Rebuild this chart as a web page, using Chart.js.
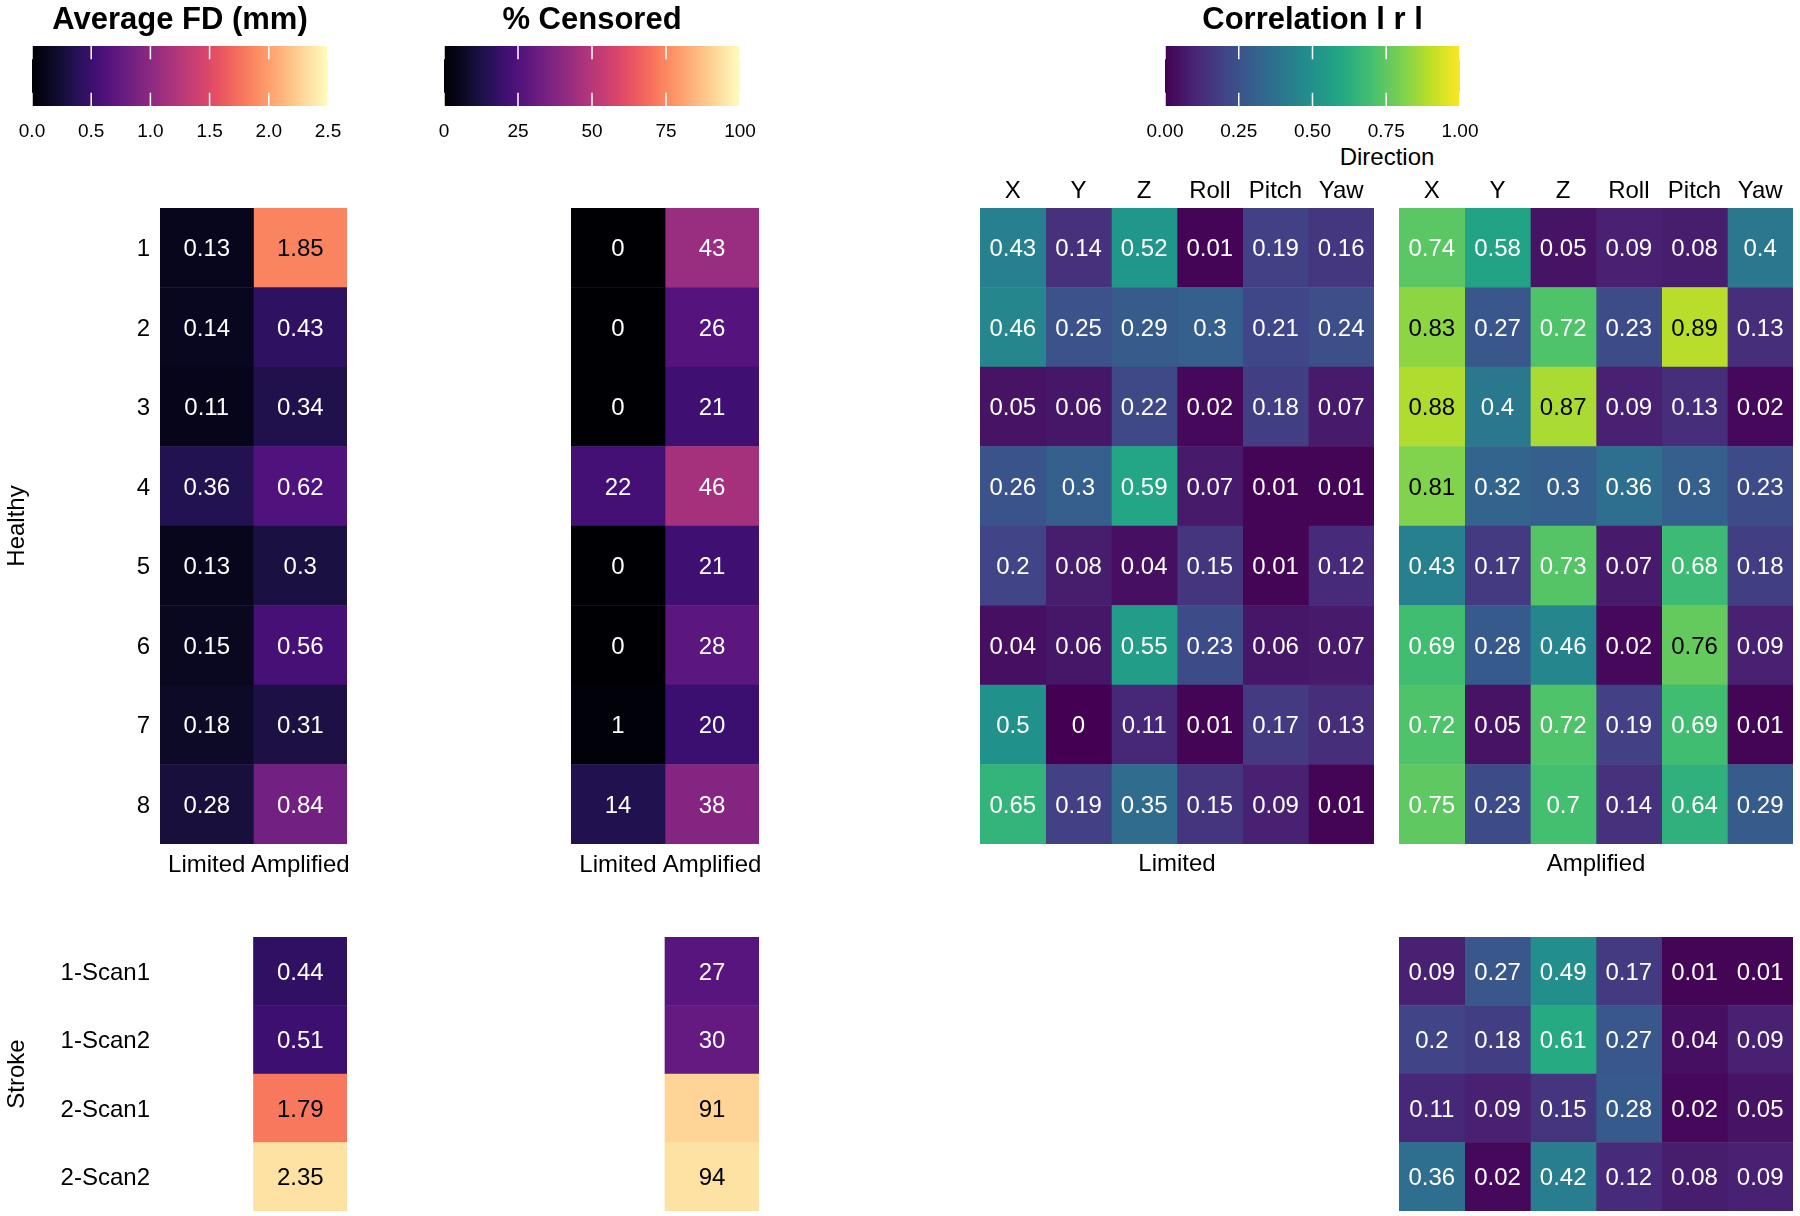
<!DOCTYPE html>
<html>
<head>
<meta charset="utf-8">
<script src="https://cdn.jsdelivr.net/npm/chart.js@4.4.1/dist/chart.umd.min.js"></script>
<style>
  html, body { margin: 0; padding: 0; background: #fff; }
  body { position: relative; width: 1800px; height: 1216px; overflow: hidden;
         font-family: 'Liberation Sans', Arial, Helvetica, sans-serif; }
  canvas { position: absolute; }
  #direction { position: absolute; left: 1287px; top: 143px; width: 200px; text-align: center;
               font-size: 24px; line-height: 28px; color: #000; }
</style>
</head>
<body>
<div id="direction">Direction</div>
<script>
// ---- data ----
const healthyRows = ['1', '2', '3', '4', '5', '6', '7', '8'];
const strokeRows = ['1-Scan1', '1-Scan2', '2-Scan1', '2-Scan2'];
const conditions = ['Limited', 'Amplified'];
const directions = ['X', 'Y', 'Z', 'Roll', 'Pitch', 'Yaw'];

const fdHealthyLimited   = [0.13, 0.14, 0.11, 0.36, 0.13, 0.15, 0.18, 0.28];
const fdHealthyAmplified = [1.85, 0.43, 0.34, 0.62, 0.3, 0.56, 0.31, 0.84];
const fdStrokeLimited    = [null, null, null, null];
const fdStrokeAmplified  = [0.44, 0.51, 1.79, 2.35];

const censHealthyLimited   = [0, 0, 0, 22, 0, 0, 1, 14];
const censHealthyAmplified = [43, 26, 21, 46, 21, 28, 20, 38];
const censStrokeLimited    = [null, null, null, null];
const censStrokeAmplified  = [27, 30, 91, 94];

// one row per subject, columns X Y Z Roll Pitch Yaw
const corrHealthyLimited = [
  [0.43, 0.14, 0.52, 0.01, 0.19, 0.16],
  [0.46, 0.25, 0.29, 0.3, 0.21, 0.24],
  [0.05, 0.06, 0.22, 0.02, 0.18, 0.07],
  [0.26, 0.3, 0.59, 0.07, 0.01, 0.01],
  [0.2, 0.08, 0.04, 0.15, 0.01, 0.12],
  [0.04, 0.06, 0.55, 0.23, 0.06, 0.07],
  [0.5, 0, 0.11, 0.01, 0.17, 0.13],
  [0.65, 0.19, 0.35, 0.15, 0.09, 0.01]
];
const corrHealthyAmplified = [
  [0.74, 0.58, 0.05, 0.09, 0.08, 0.4],
  [0.83, 0.27, 0.72, 0.23, 0.89, 0.13],
  [0.88, 0.4, 0.87, 0.09, 0.13, 0.02],
  [0.81, 0.32, 0.3, 0.36, 0.3, 0.23],
  [0.43, 0.17, 0.73, 0.07, 0.68, 0.18],
  [0.69, 0.28, 0.46, 0.02, 0.76, 0.09],
  [0.72, 0.05, 0.72, 0.19, 0.69, 0.01],
  [0.75, 0.23, 0.7, 0.14, 0.64, 0.29]
];
const corrStrokeAmplified = [
  [0.09, 0.27, 0.49, 0.17, 0.01, 0.01],
  [0.2, 0.18, 0.61, 0.27, 0.04, 0.09],
  [0.11, 0.09, 0.15, 0.28, 0.02, 0.05],
  [0.36, 0.02, 0.42, 0.12, 0.08, 0.09]
];

const fdTicks = [0, 0.5, 1, 1.5, 2, 2.5];
const censTicks = [0, 25, 50, 75, 100];
const corrTicks = [0, 0.25, 0.5, 0.75, 1];

// ---- styling ----
const FONT = "'Liberation Sans', Arial, Helvetica, sans-serif";
const VIRIDIS = ['#440154', '#482475', '#414487', '#355f8d', '#2a788e', '#21918c',
                 '#22a884', '#44bf70', '#7ad151', '#bddf26', '#fde725'];
const MAGMA = ['#000004', '#07061c', '#140e36', '#251255', '#3b0f70', '#51127c', '#641a80',
               '#782281', '#8c2981', '#a1307e', '#b73779', '#ca3e72', '#de4968', '#ed5a5f',
               '#f7705c', '#fb8861', '#fe9f6d', '#feb77e', '#fecf92', '#fde7a9', '#fcfdbf'];

Chart.defaults.font.family = FONT;
Chart.defaults.color = '#000';
Chart.defaults.animation = false;
Chart.defaults.responsive = false;
Chart.defaults.plugins.legend.display = false;
Chart.defaults.plugins.tooltip.enabled = false;

function rgb(hex) {
  const n = parseInt(hex.slice(1), 16);
  return [n >> 16, (n >> 8) & 255, n & 255];
}

function colorAt(stops, t) {
  t = Math.max(0, Math.min(1, t));
  const p = t * (stops.length - 1);
  const i = Math.min(Math.floor(p), stops.length - 2);
  const f = p - i;
  const a = rgb(stops[i]), b = rgb(stops[i + 1]);
  const c = a.map((v, k) => Math.round(v + (b[k] - v) * f));
  return `rgb(${c[0]},${c[1]},${c[2]})`;
}

function addCanvas(left, top, width, height) {
  const c = document.createElement('canvas');
  c.width = width;
  c.height = height;
  c.style.left = left + 'px';
  c.style.top = top + 'px';
  document.body.appendChild(c);
  return c;
}

const byColumn = m => m[0].map((_, c) => m.map(row => row[c]));

// keep tick labels from pushing the plot area around
function noOverhang(s) {
  s.paddingTop = 0; s.paddingBottom = 0; s.paddingLeft = 0; s.paddingRight = 0;
}

// heatmap = horizontal stacked bars, one dataset per column, one unit wide each
function heatmap(cfg) {
  const [l, t, r, b] = cfg.area;
  const yw = cfg.rowAxis ? l : 0;
  const padL = cfg.rowAxis ? 0 : 40, padR = 40;
  const topH = cfg.colPos === 'top' ? 40 : 0;
  const botH = (cfg.colPos === 'bottom' || cfg.panelTitle) ? 40 : 0;
  const canvas = addCanvas(l - yw - padL, t - topH, yw + padL + (r - l) + padR, topH + (b - t) + botH);
  const n = cfg.cols.length;

  const scales = {
    y: {
      type: 'category', stacked: true, display: !!cfg.rowAxis,
      grid: { display: false, drawTicks: false }, border: { display: false },
      ticks: { padding: 10, labelOffset: 2, font: { size: 24 }, color: '#000' },
      title: { display: !!cfg.rowTitle, text: cfg.rowTitle || '', font: { size: 24 }, color: '#000',
               padding: { top: 3, bottom: 0 } },
      afterFit: s => { s.width = yw; noOverhang(s); }
    },
    x: {
      type: 'linear', stacked: true, min: 0, max: n,
      position: cfg.colPos || 'bottom', display: !!cfg.colPos,
      grid: { display: false, drawTicks: false }, border: { display: false },
      afterBuildTicks: s => { s.ticks = cfg.cols.map((c, i) => ({ value: i + 0.5 })); },
      ticks: { autoSkip: false, maxRotation: 0, padding: cfg.colPos === 'top' ? 2 : 7,
               font: { size: 24 }, color: '#000', callback: (v, i) => cfg.cols[i] },
      afterFit: s => { s.height = cfg.colPos === 'top' ? topH : botH; noOverhang(s); }
    }
  };
  if (cfg.panelTitle) {
    scales.x2 = {
      type: 'linear', position: 'bottom', min: 0, max: n,
      grid: { display: false, drawTicks: false }, border: { display: false },
      ticks: { display: false },
      title: { display: true, text: cfg.panelTitle, font: { size: 24 }, color: '#000',
               padding: { top: 0, bottom: 5 } },
      afterFit: s => { s.height = botH; noOverhang(s); }
    };
  }

  const datasets = cfg.values.map((col, ci) => ({
    label: cfg.cols[ci],
    data: col.map(() => 1),
    backgroundColor: col.map(v => v == null ? 'rgba(0,0,0,0)'
      : colorAt(cfg.stops, (v - cfg.min) / (cfg.max - cfg.min))),
    borderWidth: 0,
    barPercentage: 1,
    categoryPercentage: 1
  }));

  new Chart(canvas, {
    type: 'bar',
    data: { labels: cfg.rows, datasets },
    options: {
      indexAxis: 'y',
      events: [],
      layout: { padding: { left: padL, right: padR, top: 0, bottom: 0 } },
      scales
    },
    plugins: [{
      id: 'cellLabels',
      afterDatasetsDraw(chart) {
        const ctx = chart.ctx;
        ctx.save();
        ctx.font = `24px ${FONT}`;
        ctx.textAlign = 'center';
        ctx.textBaseline = 'middle';
        chart.data.datasets.forEach((ds, di) => {
          chart.getDatasetMeta(di).data.forEach((bar, ri) => {
            const v = cfg.values[di][ri];
            if (v == null) return;
            const tv = (v - cfg.min) / (cfg.max - cfg.min);
            ctx.fillStyle = tv > cfg.darkAbove ? '#000' : '#fff';
            ctx.fillText(String(v), (bar.x + bar.base) / 2, bar.y + 2);
          });
        });
        ctx.restore();
      }
    }]
  });
}

function colorbar(cfg) {
  const [l, t, r, b] = cfg.area;
  const pad = 40, axisH = 40;
  const canvas = addCanvas(l - pad, 0, r - l + 2 * pad, b + axisH);
  const lo = cfg.ticks[0], hi = cfg.ticks[cfg.ticks.length - 1];

  new Chart(canvas, {
    type: 'bar',
    data: {
      labels: [''],
      datasets: [{
        data: [[lo, hi]],
        borderWidth: 0,
        barPercentage: 1,
        categoryPercentage: 1,
        backgroundColor: ctx => {
          const chart = ctx.chart;
          if (!chart.chartArea) return null;
          const xs = chart.scales.x;
          const g = chart.ctx.createLinearGradient(xs.getPixelForValue(lo), 0, xs.getPixelForValue(hi), 0);
          cfg.stops.forEach((s, i) => g.addColorStop(i / (cfg.stops.length - 1), s));
          return g;
        }
      }]
    },
    options: {
      indexAxis: 'y',
      events: [],
      layout: { padding: { left: pad, right: pad, top: 0, bottom: 0 } },
      plugins: {
        title: { display: true, text: cfg.title, color: '#000',
                 font: { size: 31, weight: 'bold', lineHeight: 1.2 },
                 padding: { top: 2, bottom: t - 39.2 } }
      },
      scales: {
        y: { display: false },
        x: {
          type: 'linear', min: lo, max: hi,
          grid: { display: false, drawTicks: false }, border: { display: false },
          afterBuildTicks: s => { s.ticks = cfg.ticks.map(v => ({ value: v })); },
          ticks: { autoSkip: false, maxRotation: 0, padding: 14, font: { size: 19 }, color: '#000',
                   callback: v => cfg.fmt(v) },
          afterFit: s => { s.height = axisH; noOverhang(s); }
        }
      }
    },
    plugins: [{
      id: 'tickMarks',
      afterDatasetsDraw(chart) {
        const { ctx, chartArea: a } = chart;
        const xs = chart.scales.x;
        const h = (a.bottom - a.top) * 0.22;
        ctx.save();
        ctx.strokeStyle = '#fff';
        ctx.lineWidth = 1.5;
        xs.ticks.forEach(tk => {
          const px = xs.getPixelForValue(tk.value);
          ctx.beginPath();
          ctx.moveTo(px, a.top); ctx.lineTo(px, a.top + h);
          ctx.moveTo(px, a.bottom - h); ctx.lineTo(px, a.bottom);
          ctx.stroke();
        });
        ctx.restore();
      }
    }]
  });
}

// ---- colour bars with panel titles ----
colorbar({ area: [32, 46, 328, 106], title: 'Average FD (mm)', stops: MAGMA, ticks: fdTicks, fmt: v => v.toFixed(1) });
colorbar({ area: [444, 46, 740, 106], title: '% Censored', stops: MAGMA, ticks: censTicks, fmt: v => String(Math.round(v)) });
colorbar({ area: [1165, 46, 1460, 106], title: 'Correlation l r l', stops: VIRIDIS, ticks: corrTicks, fmt: v => v.toFixed(2) });

// ---- healthy ----
heatmap({ area: [160, 208, 347, 844], rows: healthyRows, cols: conditions, rowAxis: true, rowTitle: 'Healthy',
          colPos: 'bottom', values: [fdHealthyLimited, fdHealthyAmplified],
          stops: MAGMA, min: 0, max: 2.5, darkAbove: 0.6 });
heatmap({ area: [571, 208, 759, 844], rows: healthyRows, cols: conditions, colPos: 'bottom',
          values: [censHealthyLimited, censHealthyAmplified],
          stops: MAGMA, min: 0, max: 100, darkAbove: 0.6 });
heatmap({ area: [980, 208, 1374, 844], rows: healthyRows, cols: directions, colPos: 'top', panelTitle: 'Limited',
          values: byColumn(corrHealthyLimited), stops: VIRIDIS, min: 0, max: 1, darkAbove: 0.755 });
heatmap({ area: [1399, 208, 1793, 844], rows: healthyRows, cols: directions, colPos: 'top', panelTitle: 'Amplified',
          values: byColumn(corrHealthyAmplified), stops: VIRIDIS, min: 0, max: 1, darkAbove: 0.755 });

// ---- stroke ----
heatmap({ area: [160, 937, 347, 1211], rows: strokeRows, cols: conditions, rowAxis: true, rowTitle: 'Stroke',
          values: [fdStrokeLimited, fdStrokeAmplified], stops: MAGMA, min: 0, max: 2.5, darkAbove: 0.6 });
heatmap({ area: [571, 937, 759, 1211], rows: strokeRows, cols: conditions,
          values: [censStrokeLimited, censStrokeAmplified], stops: MAGMA, min: 0, max: 100, darkAbove: 0.6 });
heatmap({ area: [1399, 937, 1793, 1211], rows: strokeRows, cols: directions,
          values: byColumn(corrStrokeAmplified), stops: VIRIDIS, min: 0, max: 1, darkAbove: 0.755 });
</script>
</body>
</html>
